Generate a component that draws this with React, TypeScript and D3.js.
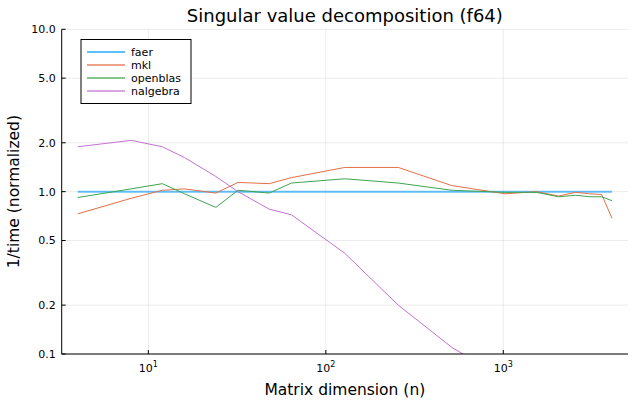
import React from "react";
import * as d3 from "d3";

const sizes = [4, 8, 12, 16, 24, 32, 48, 64, 128, 256, 512, 1024, 1536, 2048, 2560, 3072, 3584, 4096];
const faer = [1, 1, 1, 1, 1, 1, 1, 1, 1, 1, 1, 1, 1, 1, 1, 1, 1, 1];
const mkl = [0.73, 0.91, 1.02, 1.04, 0.98, 1.14, 1.12, 1.22, 1.41, 1.41, 1.09, 0.97, 1.0, 0.94, 0.99, 0.97, 0.96, 0.686];
const openblas = [0.92, 1.04, 1.12, 0.97, 0.8, 1.02, 0.98, 1.13, 1.2, 1.13, 1.02, 0.99, 0.99, 0.93, 0.95, 0.93, 0.93, 0.88];
const nalgebra = [1.89, 2.07, 1.89, 1.62, 1.24, 1.0, 0.78, 0.72, 0.417, 0.2, 0.11, 0.07];

const seriesNames = ["faer", "mkl", "openblas", "nalgebra"];
const seriesColors = ["#009AFA", "#E36F47", "#3EA44E", "#C371D2"];
const seriesValues = [faer, mkl, openblas, nalgebra];

const yTicks = [0.1, 0.2, 0.5, 1.0, 2.0, 5.0, 10.0];
const yTickLabels = ["0.1", "0.2", "0.5", "1.0", "2.0", "5.0", "10.0"];
const xTicks = [10, 100, 1000];
const xTickExps = ["1", "2", "3"];

const W = 640, H = 400;
const left = 61.7, right = 628, top = 29.3, bottom = 354;
const font = "DejaVu Sans, sans-serif";

export default function App() {
  const lo = Math.log10(4), hi = Math.log10(4096), pad = (hi - lo) * 0.03;
  const x = d3.scaleLog().domain([Math.pow(10, lo - pad), Math.pow(10, hi + pad)]).range([left, right]);
  const y = d3.scaleLog().domain([0.1, 10]).range([bottom, top]);
  const line = d3.line<[number, number]>().x(d => x(d[0])).y(d => y(d[1]));

  return (
    <svg width={W} height={H} style={{ position: "absolute", left: 0, top: 0, background: "#fff" }} fontFamily={font}>
      <defs>
        <clipPath id="plotclip">
          <rect x={left} y={top} width={right - left} height={bottom - top} />
        </clipPath>
      </defs>
      <rect x={0} y={0} width={W} height={H} fill="#fff" />
      {xTicks.map((t, i) => (
        <line key={"gx" + i} x1={x(t)} x2={x(t)} y1={top} y2={bottom} stroke="#000" strokeOpacity={0.08} strokeWidth={1} />
      ))}
      {yTicks.map((t, i) => (
        <line key={"gy" + i} x1={left} x2={right} y1={y(t)} y2={y(t)} stroke="#000" strokeOpacity={0.08} strokeWidth={1} />
      ))}
      <g clipPath="url(#plotclip)">
        {seriesValues.map((vals, si) => {
          const pts = vals.map((v, i) => [sizes[i], v] as [number, number]);
          const isFaer = si === 0;
          return (
            <path key={"s" + si} d={line(pts) || ""} fill="none" stroke={seriesColors[si]}
              strokeWidth={isFaer ? 2 : 1} strokeOpacity={isFaer ? 0.6 : 1} />
          );
        })}
      </g>
      <line x1={left} x2={left} y1={top} y2={bottom} stroke="#000" strokeWidth={1} />
      <line x1={left} x2={right} y1={bottom} y2={bottom} stroke="#000" strokeWidth={1} />
      {yTicks.map((t, i) => (
        <g key={"yt" + i}>
          <line x1={left} x2={left + 4} y1={y(t)} y2={y(t)} stroke="#000" strokeWidth={1} />
          <text x={left - 6} y={y(t)} dy="0.35em" textAnchor="end" fontSize={11}>{yTickLabels[i]}</text>
        </g>
      ))}
      {xTicks.map((t, i) => (
        <g key={"xt" + i}>
          <line x1={x(t)} x2={x(t)} y1={bottom} y2={bottom - 4} stroke="#000" strokeWidth={1} />
          <text x={x(t)} y={bottom + 18} textAnchor="middle" fontSize={11}>
            10<tspan fontSize={8} dy={-5}>{xTickExps[i]}</tspan>
          </text>
        </g>
      ))}
      <text x={(left + right) / 2} y={22} textAnchor="middle" fontSize={18}>Singular value decomposition (f64)</text>
      <text x={(left + right) / 2} y={395} textAnchor="middle" fontSize={15.5}>Matrix dimension (n)</text>
      <text transform={`translate(19,${(top + bottom) / 2}) rotate(-90)`} textAnchor="middle" fontSize={15.5}>1/time (normalized)</text>
      <rect x={81} y={39.5} width={110} height={64} fill="#fff" stroke="#000" strokeWidth={1} />
      {seriesNames.map((n, i) => (
        <g key={"lg" + i}>
          <line x1={87} x2={125} y1={52 + i * 13} y2={52 + i * 13} stroke={seriesColors[i]} strokeWidth={1.3} strokeOpacity={0.85} />
          <text x={131} y={52 + i * 13} dy="0.35em" fontSize={11}>{n}</text>
        </g>
      ))}
    </svg>
  );
}
